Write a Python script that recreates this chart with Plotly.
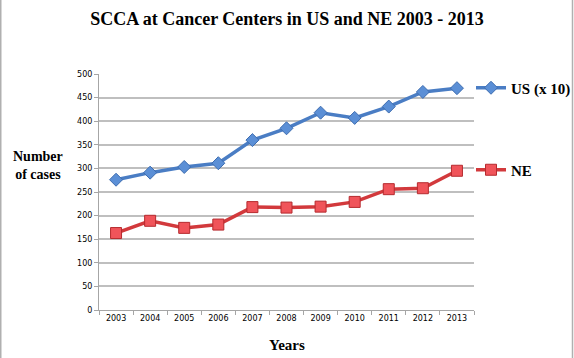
import plotly.graph_objects as go

years = ["2003", "2004", "2005", "2006", "2007", "2008", "2009", "2010", "2011", "2012", "2013"]
us_x10 = [276, 291, 303, 311, 360, 385, 418, 407, 431, 462, 470]
ne = [163, 189, 174, 181, 218, 217, 219, 229, 256, 258, 295]
y_ticks = list(range(0, 501, 50))

W, H = 574, 358
L, R, T, B = 99, 100, 74, 48
pw, ph = W - L - R, H - T - B

def px_x(x):
    return (x - L) / pw

def px_y(y):
    return (H - B - y) / ph

fig = go.Figure()
fig.add_trace(go.Scatter(
    x=years, y=us_x10, name="<b>US (x 10)</b>", mode="lines+markers",
    line=dict(color="#4a7dc4", width=3.5),
    marker=dict(symbol="diamond", size=10, color="#5b8fd6", line=dict(color="#3e6db0", width=1)),
    legend="legend",
))
fig.add_trace(go.Scatter(
    x=years, y=ne, name="<b>NE</b>", mode="lines+markers",
    line=dict(color="#d2393c", width=3.5),
    marker=dict(symbol="square", size=11, color="#f0545a", line=dict(color="#b52a2e", width=1)),
    legend="legend2",
))

serif = "Liberation Serif, Times New Roman, serif"
sans = "DejaVu Sans, Verdana, sans-serif"

fig.update_layout(
    width=W, height=H,
    margin=dict(l=L, r=R, t=T, b=B, pad=0, autoexpand=False),
    paper_bgcolor="white", plot_bgcolor="white",
    title=dict(text="<b>SCCA at Cancer Centers in US and NE 2003 - 2013</b>",
               x=0.5, xanchor="center", y=1 - 19 / H, yanchor="middle",
               font=dict(family=serif, size=18, color="black")),
    xaxis=dict(type="category", range=[-0.5, 10.5], showgrid=False,
               showline=True, linecolor="#a6a6a6", linewidth=1,
               ticks="outside", tickson="boundaries", ticklen=4, tickcolor="#a6a6a6",
               tickfont=dict(family=sans, size=8, color="black")),
    yaxis=dict(range=[0, 500], tickvals=y_ticks, showgrid=True, gridcolor="#bfbfbf", gridwidth=1.5,
               showline=True, linecolor="#a6a6a6", linewidth=1, zeroline=False,
               ticks="outside", ticklen=4, tickcolor="#a6a6a6",
               tickfont=dict(family=sans, size=8, color="black")),
    legend=dict(x=px_x(471), y=px_y(88), xanchor="left", yanchor="middle",
                bgcolor="rgba(0,0,0,0)", itemwidth=30,
                font=dict(family=serif, size=15, color="black")),
    legend2=dict(x=px_x(471), y=px_y(170), xanchor="left", yanchor="middle",
                 bgcolor="rgba(0,0,0,0)", itemwidth=30,
                 font=dict(family=serif, size=15, color="black")),
    showlegend=True,
)
fig.update_traces(showlegend=True)

fig.add_annotation(text="<b>Number<br>of cases</b>", xref="paper", yref="paper",
                   x=px_x(38), y=px_y(165), xanchor="center", yanchor="middle",
                   showarrow=False, align="center",
                   font=dict(family=serif, size=14, color="black"))
fig.add_annotation(text="<b>Years</b>", xref="paper", yref="paper",
                   x=px_x(287), y=px_y(345), xanchor="center", yanchor="middle",
                   showarrow=False, font=dict(family=serif, size=15, color="black"))

for xp in (0.75, 572.5):
    fig.add_shape(type="line", xref="paper", yref="paper",
                  x0=px_x(xp), x1=px_x(xp), y0=px_y(0), y1=px_y(H),
                  line=dict(color="#b0b0b0", width=1.5))

fig.write_html("out.html", config={"displayModeBar": False},
               post_script="document.body.style.margin='0';document.body.style.overflow='hidden';")
